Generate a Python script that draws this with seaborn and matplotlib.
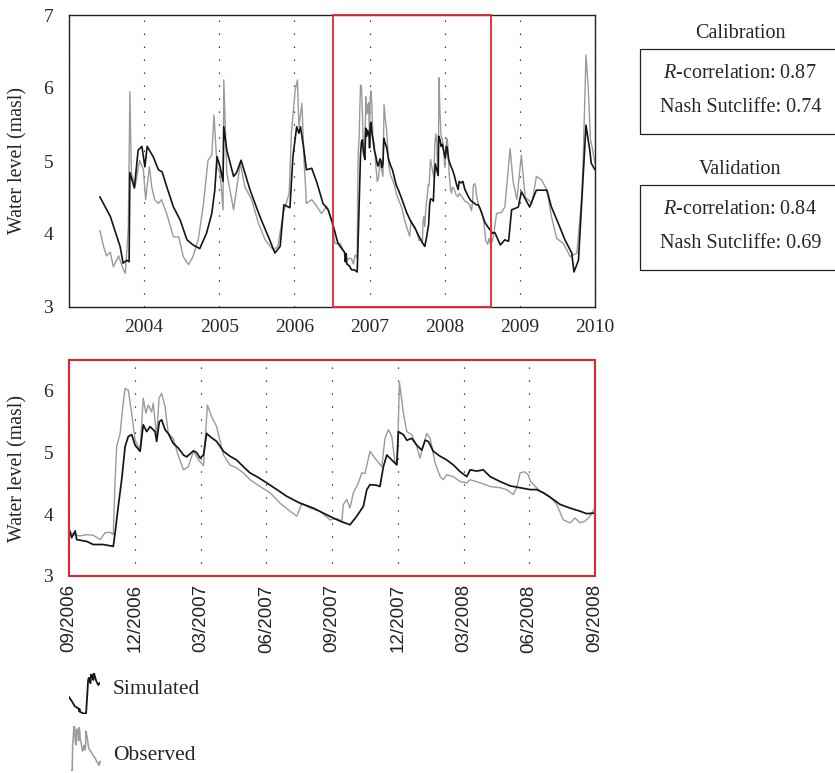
import numpy as np
import pandas as pd
import matplotlib
matplotlib.use("Agg")
import matplotlib.pyplot as plt
import seaborn as sns
from matplotlib.patches import Rectangle

# ---------------- data (decimal years, water level in masl) ----------------
sim_year = [2003.41, 2003.55, 2003.68, 2003.72, 2003.77, 2003.80, 2003.81, 2003.87, 2003.92, 2003.97,
            2004.01, 2004.04, 2004.12, 2004.19, 2004.24, 2004.30, 2004.39, 2004.48, 2004.57, 2004.65,
            2004.74, 2004.83, 2004.90, 2004.94, 2004.97, 2005.01, 2005.05, 2005.06, 2005.10, 2005.19,
            2005.23, 2005.29, 2005.34, 2005.41, 2005.54, 2005.67, 2005.74, 2005.81, 2005.86, 2005.94,
            2005.98, 2006.03, 2006.06, 2006.08, 2006.12, 2006.16, 2006.23, 2006.30, 2006.38, 2006.45,
            2006.52, 2006.58, 2006.63,
            2006.668, 2006.677, 2006.690, 2006.696, 2006.734, 2006.759, 2006.797, 2006.835, 2006.842, 2006.854,
            2006.867, 2006.880, 2006.892, 2006.905, 2006.918, 2006.937, 2006.949, 2006.962, 2006.975, 2006.994,
            2007.000, 2007.010, 2007.019, 2007.032, 2007.044, 2007.063, 2007.083, 2007.102, 2007.114, 2007.140,
            2007.152, 2007.165, 2007.178, 2007.190, 2007.203, 2007.228, 2007.254, 2007.279, 2007.304, 2007.330,
            2007.355, 2007.381, 2007.418, 2007.457, 2007.495, 2007.545, 2007.596, 2007.647, 2007.697, 2007.735,
            2007.761, 2007.786, 2007.799, 2007.811, 2007.837, 2007.849, 2007.862, 2007.875, 2007.894, 2007.913,
            2007.919, 2007.938, 2007.951, 2007.970, 2007.989, 2008.008, 2008.021, 2008.033, 2008.052, 2008.078,
            2008.103, 2008.128, 2008.154, 2008.179, 2008.192, 2008.217, 2008.242, 2008.268, 2008.306, 2008.344,
            2008.382, 2008.420, 2008.445, 2008.470, 2008.508, 2008.534, 2008.572, 2008.610, 2008.635, 2008.667,
            2008.74, 2008.80, 2008.85, 2008.89, 2008.98, 2009.02, 2009.13, 2009.22, 2009.36, 2009.42,
            2009.51, 2009.60, 2009.69, 2009.72, 2009.78, 2009.82, 2009.88, 2009.93, 2009.95, 2010.00]
sim_level = [4.51, 4.24, 3.83, 3.60, 3.64, 3.62, 4.84, 4.63, 5.15, 5.20,
             4.92, 5.20, 5.06, 4.88, 4.85, 4.65, 4.37, 4.19, 3.92, 3.85,
             3.80, 4.01, 4.28, 4.60, 5.06, 4.92, 4.72, 5.47, 5.15, 4.79,
             4.84, 5.01, 4.84, 4.60, 4.24, 3.92, 3.74, 3.83, 4.40, 4.36,
             5.06, 5.47, 5.38, 5.47, 5.20, 4.88, 4.90, 4.70, 4.42, 4.33,
             4.10, 3.87, 3.80,
             3.75, 3.62, 3.73, 3.59, 3.56, 3.51, 3.51, 3.48, 3.70, 4.13,
             4.56, 5.10, 5.26, 5.29, 5.12, 5.02, 5.45, 5.34, 5.42, 5.34,
             5.18, 5.50, 5.53, 5.37, 5.31, 5.15, 5.07, 4.96, 4.93, 5.03,
             5.00, 4.91, 4.96, 5.31, 5.26, 5.18, 5.02, 4.94, 4.88, 4.77,
             4.67, 4.61, 4.51, 4.40, 4.29, 4.18, 4.10, 3.99, 3.89, 3.83,
             3.97, 4.13, 4.40, 4.48, 4.47, 4.45, 4.77, 4.96, 4.88, 4.80,
             5.34, 5.29, 5.20, 5.23, 5.12, 5.04, 5.20, 5.18, 5.02, 4.94,
             4.88, 4.80, 4.69, 4.61, 4.72, 4.70, 4.72, 4.61, 4.53, 4.46,
             4.43, 4.40, 4.40, 4.35, 4.24, 4.16, 4.10, 4.05, 4.01, 4.02,
             3.85, 3.92, 3.90, 4.33, 4.37, 4.58, 4.37, 4.60, 4.60, 4.37,
             4.15, 3.92, 3.74, 3.48, 3.64, 4.37, 5.49, 5.15, 4.97, 4.88]

obs_year = [2003.41, 2003.46, 2003.50, 2003.55, 2003.59, 2003.66, 2003.71, 2003.75, 2003.79, 2003.81,
            2003.83, 2003.88, 2003.94, 2003.99, 2004.02, 2004.07, 2004.10, 2004.14, 2004.19, 2004.23,
            2004.30, 2004.39, 2004.46, 2004.52, 2004.59, 2004.65, 2004.72, 2004.79, 2004.85, 2004.90,
            2004.93, 2004.97, 2005.01, 2005.05, 2005.06, 2005.10, 2005.19, 2005.28, 2005.34, 2005.43,
            2005.52, 2005.61, 2005.72, 2005.78, 2005.85, 2005.93, 2005.96, 2006.01, 2006.04, 2006.06,
            2006.10, 2006.13, 2006.16, 2006.23, 2006.27, 2006.36, 2006.43, 2006.50, 2006.54, 2006.61,
            2006.668, 2006.683, 2006.709, 2006.734, 2006.759, 2006.785, 2006.804, 2006.823, 2006.835, 2006.842,
            2006.848, 2006.861, 2006.871, 2006.880, 2006.892, 2006.905, 2006.918, 2006.937, 2006.949, 2006.959,
            2006.968, 2006.981, 2006.987, 2007.000, 2007.009, 2007.019, 2007.032, 2007.044, 2007.063, 2007.083,
            2007.102, 2007.120, 2007.140, 2007.159, 2007.178, 2007.193, 2007.209, 2007.228, 2007.254, 2007.279,
            2007.304, 2007.330, 2007.355, 2007.393, 2007.431, 2007.469, 2007.507, 2007.533, 2007.552, 2007.583,
            2007.621, 2007.659, 2007.685, 2007.704, 2007.710, 2007.723, 2007.735, 2007.748, 2007.767, 2007.780,
            2007.792, 2007.811, 2007.830, 2007.856, 2007.868, 2007.881, 2007.894, 2007.906, 2007.915, 2007.923,
            2007.938, 2007.951, 2007.970, 2007.989, 2008.001, 2008.014, 2008.027, 2008.040, 2008.059, 2008.078,
            2008.090, 2008.103, 2008.128, 2008.154, 2008.179, 2008.192, 2008.230, 2008.268, 2008.306, 2008.331,
            2008.356, 2008.369, 2008.382, 2008.397, 2008.413, 2008.422, 2008.458, 2008.496, 2008.521, 2008.546,
            2008.572, 2008.591, 2008.610, 2008.629, 2008.648, 2008.663,
            2008.69, 2008.76, 2008.80, 2008.87, 2008.91, 2008.96, 2009.02, 2009.07, 2009.16, 2009.22,
            2009.29, 2009.36, 2009.42, 2009.49, 2009.58, 2009.67, 2009.76, 2009.82, 2009.84, 2009.88,
            2009.91, 2009.94, 2009.96, 2010.00]
obs_level = [4.05, 3.83, 3.70, 3.75, 3.55, 3.70, 3.55, 3.46, 4.10, 5.95,
             4.84, 4.65, 5.01, 4.88, 4.47, 4.92, 4.65, 4.47, 4.42, 4.47,
             4.28, 3.96, 3.96, 3.69, 3.58, 3.69, 3.92, 4.42, 5.01, 5.08,
             5.63, 4.92, 4.84, 4.33, 6.11, 4.84, 4.33, 4.97, 4.65, 4.47,
             4.15, 3.92, 3.78, 3.83, 4.28, 4.56, 5.38, 5.97, 6.11, 5.47,
             5.79, 4.97, 4.42, 4.47, 4.42, 4.28, 4.38, 4.17, 3.87, 3.87,
             3.73, 3.67, 3.65, 3.67, 3.66, 3.59, 3.70, 3.71, 3.67, 4.56,
             5.10, 5.31, 5.74, 6.04, 6.01, 5.64, 5.20, 5.04, 5.88, 5.64,
             5.77, 5.66, 5.80, 5.26, 5.88, 5.96, 5.74, 5.31, 5.23, 4.94,
             4.72, 4.77, 5.02, 4.88, 4.79, 5.77, 5.58, 5.42, 4.96, 4.80,
             4.75, 4.67, 4.56, 4.45, 4.35, 4.18, 4.05, 3.97, 4.18, 4.10,
             4.05, 3.91, 3.93, 3.89, 4.16, 4.24, 4.10, 4.35, 4.51, 4.67,
             4.66, 5.02, 4.91, 4.77, 5.23, 5.37, 5.26, 4.85, 4.84, 6.14,
             5.64, 5.34, 5.29, 5.10, 4.91, 5.12, 5.31, 5.23, 4.83, 4.61,
             4.56, 4.64, 4.61, 4.53, 4.51, 4.56, 4.51, 4.45, 4.43, 4.40,
             4.32, 4.43, 4.67, 4.69, 4.64, 4.53, 4.37, 4.29, 4.16, 3.91,
             3.86, 3.94, 3.86, 3.89, 3.97, 4.08,
             4.28, 4.30, 4.37, 5.17, 4.72, 4.47, 5.08, 4.51, 4.42, 4.79,
             4.74, 4.60, 4.24, 3.94, 3.87, 3.69, 3.74, 4.47, 4.92, 6.45,
             6.01, 5.29, 5.20, 4.97]

year_ticks = [2003, 2004, 2005, 2006, 2007, 2008, 2009, 2010]
year_labels = ["", "2004", "2005", "2006", "2007", "2008", "2009", "2010"]
zoom_ticks = [2006 + 8/12, 2006 + 11/12, 2007 + 2/12, 2007 + 5/12, 2007 + 8/12,
              2007 + 11/12, 2008 + 2/12, 2008 + 5/12, 2008 + 8/12]
zoom_labels = ["09/2006", "12/2006", "03/2007", "06/2007", "09/2007",
               "12/2007", "03/2008", "06/2008", "09/2008"]
zoom_box = [2006.51, 2008.61]
stats_titles = ["Calibration", "Validation"]
r_corr = [0.87, 0.84]
nash = [0.74, 0.69]
legend_names = ["Simulated", "Observed"]

sim = pd.DataFrame({"year": sim_year, "level": sim_level})
obs = pd.DataFrame({"year": obs_year, "level": obs_level})

# ---------------- style ----------------
sns.set_style("white")
plt.rcParams["font.family"] = ["Liberation Serif", "DejaVu Serif"]
plt.rcParams["mathtext.fontset"] = "custom"
plt.rcParams["mathtext.rm"] = "Liberation Serif"
plt.rcParams["mathtext.it"] = "Liberation Serif:italic"

SIM_C = "#151515"
OBS_C = "#9a9a9a"
RED = "#e2262d"
W, H = 835, 773

fig = plt.figure(figsize=(W / 100, H / 100), dpi=100)


def px_axes(x0, y0, x1, y1):
    return fig.add_axes([x0 / W, 1 - y1 / H, (x1 - x0) / W, (y1 - y0) / H])


def draw_series(ax, lw_obs=1.0, lw_sim=1.2):
    sns.lineplot(data=obs, x="year", y="level", ax=ax, color=OBS_C, lw=lw_obs,
                 sort=False, estimator=None, legend=False)
    sns.lineplot(data=sim, x="year", y="level", ax=ax, color=SIM_C, lw=lw_sim,
                 sort=False, estimator=None, legend=False)


dot_style = dict(color="black", linestyle=(0, (1, 10)), linewidth=0.85)

# ---------------- top panel ----------------
ax1 = px_axes(69, 15, 595, 307)
draw_series(ax1)
ax1.set_xlim(2003, 2010)
ax1.set_ylim(3, 7)
ax1.set_xticks(year_ticks)
ax1.set_xticklabels(year_labels, fontsize=14)
yt1 = np.arange(3, 7.01, 0.5)
ax1.set_yticks(yt1)
ax1.set_yticklabels([f"{v:g}" if v == int(v) else "" for v in yt1], fontsize=14)
ax1.tick_params(axis="both", direction="out", length=3.5, width=0.9, color="black", pad=5)
ax1.tick_params(axis="y", pad=8)
ax1.grid(axis="x", **dot_style)
ax1.grid(axis="y", visible=False)
for s in ax1.spines.values():
    s.set_color("#222222")
    s.set_linewidth(1.0)
ax1.set_xlabel("")
ax1.set_ylabel("Water level (masl)", fontsize=14.3)
ax1.yaxis.set_label_coords(-0.078, 0.5)
ax1.add_patch(Rectangle((zoom_box[0], 3), zoom_box[1] - zoom_box[0], 4, fill=False,
                        edgecolor=RED, lw=1.3, zorder=5, clip_on=False))

# ---------------- bottom (zoom) panel ----------------
ax2 = px_axes(69, 360, 595, 576)
draw_series(ax2, lw_obs=1.0, lw_sim=1.25)
ax2.set_xlim(zoom_ticks[0], zoom_ticks[-1])
ax2.set_ylim(3, 6.5)
ax2.set_xticks(zoom_ticks)
ax2.set_xticklabels(zoom_labels, rotation=90, fontsize=13.5,
                    family=["Liberation Sans Narrow", "Liberation Sans", "DejaVu Sans"],
                    color="#222222")
yt2 = np.arange(3, 6.51, 0.5)
ax2.set_yticks(yt2)
ax2.set_yticklabels([f"{v:g}" if v == int(v) else "" for v in yt2], fontsize=14)
ax2.tick_params(axis="y", direction="out", length=3.5, width=0.9, color="black", pad=8)
ax2.tick_params(axis="x", length=0, pad=6)
ax2.grid(axis="x", **dot_style)
ax2.grid(axis="y", visible=False)
for s in ax2.spines.values():
    s.set_color(RED)
    s.set_linewidth(1.5)
ax2.set_xlabel("")
ax2.set_ylabel("Water level (masl)", fontsize=14.3)
ax2.yaxis.set_label_coords(-0.078, 0.5)

# ---------------- statistics boxes ----------------
box_tops = [49, 185]
for i, top in enumerate(box_tops):
    fig.add_artist(Rectangle((640 / W, 1 - (top + 85) / H), 210 / W, 85 / H,
                             transform=fig.transFigure, fill=False,
                             edgecolor="#222222", lw=0.9))
    fig.text(740 / W, 1 - (top - 16) / H, stats_titles[i], ha="center", va="center", fontsize=14.5)
    fig.text(740 / W, 1 - (top + 24) / H, rf"$\mathit{{R}}$-correlation: {r_corr[i]:.2f}",
             ha="center", va="center", fontsize=14.5)
    fig.text(741 / W, 1 - (top + 59) / H, f"Nash Sutcliffe: {nash[i]:.2f}",
             ha="center", va="center", fontsize=14.5)

# ---------------- legend (icons are snippets of the series) ----------------
ic1 = px_axes(69, 673, 100, 714)
seg = sim[(sim.year >= 2006.45) & (sim.year <= 2007.16)]
sns.lineplot(data=seg, x="year", y="level", ax=ic1, color=SIM_C, lw=1.3,
             sort=False, estimator=None, legend=False)
ic1.margins(0)
ic1.axis("off")

ic2 = px_axes(71, 726, 101, 771)
seg = obs[(obs.year >= 2006.80) & (obs.year <= 2007.60)]
sns.lineplot(data=seg, x="year", y="level", ax=ic2, color=OBS_C, lw=1.1,
             sort=False, estimator=None, legend=False)
ic2.margins(0)
ic2.axis("off")

fig.text(113 / W, 1 - 690 / H, legend_names[0], ha="left", va="center", fontsize=15.5)
fig.text(113 / W, 1 - 756 / H, legend_names[1], ha="left", va="center", fontsize=15.5)

fig.savefig("out.png", dpi=100)
